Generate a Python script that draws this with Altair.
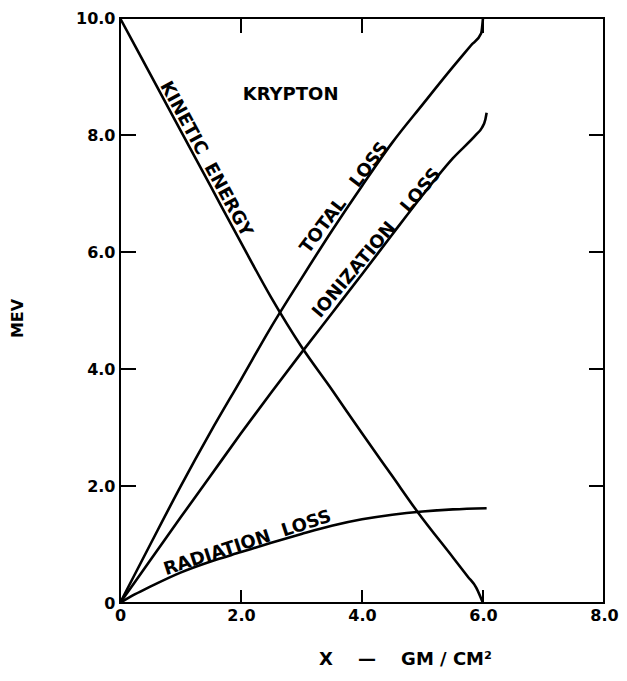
import altair as alt
import pandas as pd

# ---- data (x in GM/CM^2, y in MEV) ----
ke_x = [0.0, 0.5, 1.0, 1.5, 2.0, 2.5, 3.0, 3.5, 4.0, 4.5, 4.91, 5.51, 5.75, 5.89, 5.96, 6.0]
ke_y = [10.0, 9.04, 8.08, 7.12, 6.16, 5.22, 4.38, 3.65, 2.90, 2.17, 1.57, 0.77, 0.45, 0.26, 0.10, 0.0]

tot_x = [0.0, 0.5, 1.0, 1.5, 2.0, 2.5, 3.0, 3.5, 4.0, 4.5, 5.0, 5.5, 5.8, 5.97, 6.0]
tot_y = [0.0, 1.00, 1.99, 2.93, 3.82, 4.72, 5.55, 6.36, 7.13, 7.87, 8.52, 9.16, 9.53, 9.74, 10.0]

ion_x = [0.0, 0.5, 1.0, 1.5, 2.0, 2.5, 3.0, 3.5, 4.0, 4.5, 5.0, 5.5, 5.89, 5.98, 6.04, 6.06]
ion_y = [0.0, 0.73, 1.46, 2.18, 2.90, 3.60, 4.28, 4.95, 5.62, 6.30, 6.97, 7.60, 8.01, 8.12, 8.27, 8.38]

rad_x = [0.0, 0.25, 0.5, 1.0, 1.5, 2.0, 2.5, 3.0, 3.5, 4.0, 4.5, 5.0, 5.5, 6.06]
rad_y = [0.0, 0.15, 0.28, 0.52, 0.71, 0.87, 1.03, 1.18, 1.32, 1.43, 1.51, 1.565, 1.60, 1.62]

x_labels_at = [0, 2, 4, 6, 8]
y_labels_at = [0, 2, 4, 6, 8, 10]
side_ticks = [2, 4, 6, 8]
topbottom_ticks = [2, 4, 6]

curve_label_text = ["KINETIC\u00a0\u00a0ENERGY", "TOTAL\u00a0\u00a0\u00a0LOSS",
                    "IONIZATION\u00a0\u00a0\u00a0LOSS", "RADIATION\u00a0\u00a0LOSS"]
curve_label_x = [1.30, 3.82, 4.35, 2.15]
curve_label_y = [7.52, 6.84, 6.06, 0.89]
curve_label_angle = [61.5, 307, 310, 342]

title_text = ["KRYPTON"]
title_x = [2.82]
title_y = [8.69]

# ---- tables ----
rows = []
for name, xs, ys in [("ke", ke_x, ke_y), ("tot", tot_x, tot_y),
                     ("ion", ion_x, ion_y), ("rad", rad_x, rad_y)]:
    for i, (a, b) in enumerate(zip(xs, ys)):
        rows.append({"series": name, "x": a, "y": b, "order": i})
curves = pd.DataFrame(rows)

labels = pd.DataFrame({"text": curve_label_text, "x": curve_label_x,
                       "y": curve_label_y, "angle": curve_label_angle})
krypton = pd.DataFrame({"text": title_text, "x": title_x, "y": title_y})
side_df = pd.DataFrame({"v": side_ticks})
tb_df = pd.DataFrame({"v": topbottom_ticks})

W, H = 484, 585
FONT = "DejaVu Sans"

xscale = alt.Scale(domain=[0, 8], nice=False, zero=False)
yscale = alt.Scale(domain=[0, 10], nice=False, zero=False)
label_expr = "datum.value == 0 ? '0' : format(datum.value, '.1f')"

x_axis = alt.Axis(values=x_labels_at, labelExpr=label_expr, labelFlush=False,
                  labelPadding=4,
                  title="X\u00a0\u00a0\u00a0\u00a0—\u00a0\u00a0\u00a0\u00a0GM / CM²",
                  titleFontSize=18, titleX=285, titleY=56, titleBaseline="middle")
y_axis = alt.Axis(values=y_labels_at, labelExpr=label_expr, labelPadding=5,
                  title="MEV", titleFontSize=16, titleX=-103, titleY=300,
                  titleBaseline="middle")

lines = alt.Chart(curves).mark_line(color="black", strokeWidth=2.6, interpolate="monotone").encode(
    x=alt.X("x:Q", scale=xscale, axis=x_axis),
    y=alt.Y("y:Q", scale=yscale, axis=y_axis),
    detail="series:N",
    order="order:Q",
)

# inward tick marks on all four sides (positions from the scales, lengths in pixels)
left_ticks = alt.Chart(side_df).mark_rule(color="black", strokeWidth=2).encode(
    y=alt.Y("v:Q", scale=yscale), x=alt.value(0), x2=alt.value(16))
right_ticks = alt.Chart(side_df).mark_rule(color="black", strokeWidth=2).encode(
    y=alt.Y("v:Q", scale=yscale), x=alt.value(W - 15), x2=alt.value(W))
top_ticks = alt.Chart(tb_df).mark_rule(color="black", strokeWidth=2).encode(
    x=alt.X("v:Q", scale=xscale), y=alt.value(0), y2=alt.value(15))
bottom_ticks = alt.Chart(tb_df).mark_rule(color="black", strokeWidth=2).encode(
    x=alt.X("v:Q", scale=xscale), y=alt.value(H - 13), y2=alt.value(H))

curve_text = alt.Chart(labels).mark_text(
    font=FONT, fontSize=18, fontWeight="bold", color="black",
    align="center", baseline="alphabetic", dy=-3).encode(
    x=alt.X("x:Q", scale=xscale),
    y=alt.Y("y:Q", scale=yscale),
    text="text:N",
    angle=alt.Angle("angle:Q", scale=None),
)

krypton_text = alt.Chart(krypton).mark_text(
    font=FONT, fontSize=18, fontWeight="bold", color="black",
    align="center", baseline="middle").encode(
    x=alt.X("x:Q", scale=xscale),
    y=alt.Y("y:Q", scale=yscale),
    text="text:N",
)

chart = alt.layer(lines, left_ticks, right_ticks, top_ticks, bottom_ticks,
                  curve_text, krypton_text).properties(
    width=W, height=H,
    padding={"left": 112, "top": 10, "right": 15, "bottom": 65},
    autosize=alt.AutoSizeParams(type="none"),
    background="white",
).configure_view(
    stroke="black", strokeWidth=2
).configure_axis(
    ticks=False, domain=False, grid=False, labelOverlap=False,
    labelFont=FONT, labelFontSize=16, labelFontWeight="bold", labelColor="black",
    titleFont=FONT, titleFontWeight="bold", titleColor="black",
)

chart.save("out.html", embed_options={"renderer": "svg", "actions": False})
